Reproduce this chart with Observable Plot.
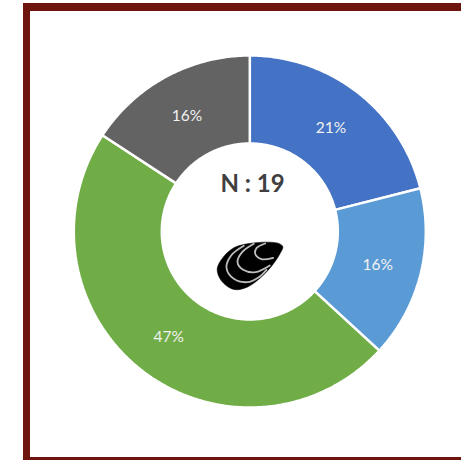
<!DOCTYPE html>
<html>
<head>
<meta charset="utf-8">
<script src="https://cdn.jsdelivr.net/npm/d3@7"></script>
<script src="https://cdn.jsdelivr.net/npm/@observablehq/plot@0.6"></script>
<style>
html,body{margin:0;padding:0;background:#fff;overflow:hidden;width:461px;height:460px}
#wrap{position:relative;width:461px;height:460px;overflow:hidden}
#frame{position:absolute;left:23px;top:3px;width:600px;height:600px;box-sizing:content-box;border-left:7.5px solid #6e1510;border-top:8.5px solid #6e1510}
#floor{position:absolute;left:23px;top:457px;width:460px;height:8px;background:#6e1510}
#chart{position:absolute;left:0;top:0}
svg{display:block;background:transparent!important}
</style>
</head>
<body>
<div id="wrap"><div id="frame"></div><div id="floor"></div><div id="chart"></div></div>
<script>
// Counts out of N = 19, clockwise from twelve o'clock
const categories = ["A", "B", "C", "D"];
const counts = [4, 3, 9, 3];
const percentLabels = ["21%", "16%", "47%", "16%"];
const colors = ["#4472C4", "#5B9BD5", "#70AD47", "#636363"];
const centerLabel = "N : 19";

// Mussel glyph, in glyph units
const shellOutline = [[277,258],[262,248],[220,245],[170,250],[130,262],[98,290],[80,325],[92,360],[130,387],[170,380],[210,352],[245,315],[270,277]];
const shellRidges = [
  [[160,256],[122,285],[108,322],[130,355],[170,365],[205,350],[228,328]],
  [[190,250],[155,275],[141,305],[158,328],[195,335],[238,315]],
  [[224,249],[198,263],[194,280],[213,296],[248,292]]
];

const W = 461, H = 460, CX = 249.3, CY = 231, R = 176, INNER = 0.5;
const pie = d3.pie().sort(null).startAngle(0).endAngle(2 * Math.PI)(counts);

const polar = (a, r) => ({x: r * Math.sin(a), y: r * Math.cos(a)});
const slices = pie.flatMap((p, i) => {
  const n = Math.max(8, Math.ceil((p.endAngle - p.startAngle) * 80));
  const as = d3.range(n + 1).map(k => p.startAngle + (p.endAngle - p.startAngle) * k / n);
  return [...as.map(a => polar(a, 1)), ...as.reverse().map(a => polar(a, INNER))]
    .map(q => ({...q, cat: categories[i], color: colors[i]}));
});
const labels = pie.map((p, i) => {
  const a = (p.startAngle + p.endAngle) / 2;
  return {...polar(a, 0.75), text: percentLabels[i]};
});

// glyph -> chart units
const gx = v => (190 + v / 3 - CX) / R;
const gy = v => (CY - (160 + v / 3)) / R;
const outline = shellOutline.map(([a, b]) => ({x: gx(a), y: gy(b)}));
const ridges = shellRidges.flatMap((r, i) => r.map(([a, b]) => ({x: gx(a), y: gy(b), id: i})));

const plot = Plot.plot({
  width: W, height: H,
  margin: 0,
  x: {domain: [-CX / R, (W - CX) / R], range: [0, W], axis: null},
  y: {domain: [(CY - H) / R, CY / R], range: [H, 0], axis: null},
  style: {background: "transparent"},
  marks: [
    Plot.line(slices, {x: "x", y: "y", z: "cat", fill: "color", stroke: "#fff", strokeWidth: 2.5, strokeLinejoin: "miter", curve: "linear-closed"}),
    Plot.text(labels, {x: "x", y: "y", dy: 1, text: "text", fill: "#f2f2f2", fontSize: 15.5, fontFamily: "Lato"}),
    Plot.text([centerLabel], {x: [(252 - CX) / R], y: [(CY - 184) / R], text: d => d, fill: "#404040", fontSize: 24, fontWeight: 700, fontFamily: "Lato"}),
    Plot.line(outline, {x: "x", y: "y", fill: "#000", stroke: "#000", strokeWidth: 0.5, curve: "catmull-rom-closed"}),
    Plot.line(ridges, {x: "x", y: "y", z: "id", stroke: "#bdbdbd", strokeWidth: 1.8, curve: "catmull-rom"})
  ]
});
document.getElementById("chart").appendChild(plot);
</script>
</body>
</html>
